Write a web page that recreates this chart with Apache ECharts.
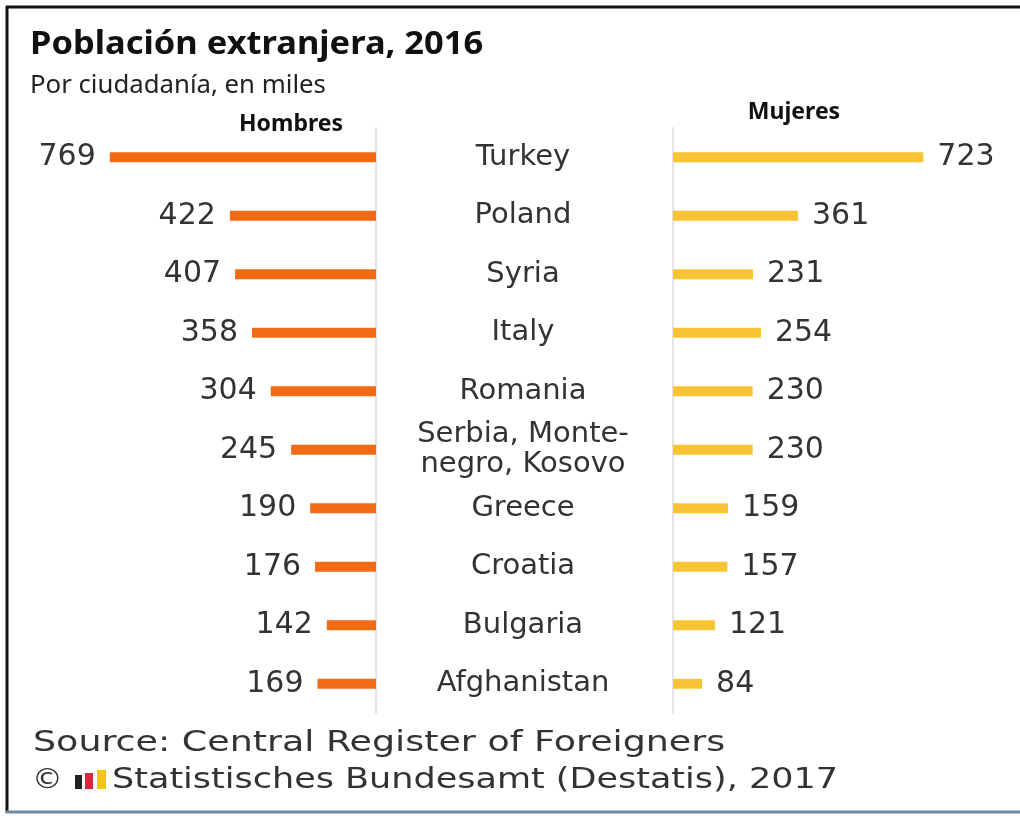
<!DOCTYPE html>
<html>
<head>
<meta charset="utf-8">
<script src="https://cdn.jsdelivr.net/npm/echarts@6/dist/echarts.min.js"></script>
<style>
  html, body { margin: 0; padding: 0; background: #fff; }
  #chart { width: 1020px; height: 818px; }
</style>
</head>
<body>
<div id="chart"></div>
<script>
const countries = ['Turkey', 'Poland', 'Syria', 'Italy', 'Romania', 'Serbia, Monte-\nnegro, Kosovo', 'Greece', 'Croatia', 'Bulgaria', 'Afghanistan'];
const hombres = [769, 422, 407, 358, 304, 245, 190, 176, 142, 169];
const mujeres = [723, 361, 231, 254, 230, 230, 159, 157, 121, 84];

const numFont = 'DejaVu Sans';
const orange = '#F36A14';
const yellow = '#F8C434';
const gray = '#E4E4E4';

const chart = echarts.init(document.getElementById('chart'));

chart.setOption({
  backgroundColor: '#fff',
  animation: false,
  grid: [
    { left: 99, right: 644, top: 128, bottom: 105 },
    { left: 673, right: 70, top: 128, bottom: 105 }
  ],
  xAxis: [
    { gridIndex: 0, type: 'value', min: 0, max: 800, inverse: true, show: false },
    { gridIndex: 1, type: 'value', min: 0, max: 800, show: false }
  ],
  yAxis: [
    {
      gridIndex: 0,
      type: 'category',
      data: countries,
      inverse: true,
      position: 'right',
      axisLine: { show: true, lineStyle: { color: gray, width: 2 } },
      axisTick: { show: false },
      axisLabel: {
        margin: 147,
        align: 'center',
        color: '#333',
        fontFamily: numFont,
        fontSize: 29,
        lineHeight: 30
      }
    },
    {
      gridIndex: 1,
      type: 'category',
      data: countries,
      inverse: true,
      axisLine: { show: true, lineStyle: { color: gray, width: 2 } },
      axisTick: { show: false },
      axisLabel: { show: false }
    }
  ],
  series: [
    {
      name: 'Hombres',
      type: 'bar',
      xAxisIndex: 0,
      yAxisIndex: 0,
      data: hombres,
      barWidth: 10,
      itemStyle: { color: orange },
      label: {
        show: true,
        position: 'left',
        distance: 14,
        color: '#333',
        fontFamily: numFont,
        fontSize: 30
      }
    },
    {
      name: 'Mujeres',
      type: 'bar',
      xAxisIndex: 1,
      yAxisIndex: 1,
      data: mujeres,
      barWidth: 10,
      itemStyle: { color: yellow },
      label: {
        show: true,
        position: 'right',
        distance: 14,
        color: '#333',
        fontFamily: numFont,
        fontSize: 30
      }
    }
  ],
  graphic: [
    // marco de la imagen
    { type: 'line', shape: { x1: 6, y1: 7, x2: 1020, y2: 7 }, style: { stroke: '#111', lineWidth: 3 } },
    { type: 'line', shape: { x1: 7, y1: 6, x2: 7, y2: 813 }, style: { stroke: '#111', lineWidth: 3 } },
    { type: 'line', shape: { x1: 6, y1: 812, x2: 1020, y2: 812 }, style: { stroke: '#7088ac', lineWidth: 3 } },
    {
      type: 'text', x: 30, y: 45, scaleX: 1.045,
      style: { text: 'Población extranjera, 2016', font: 'bold 33px "Noto Sans"', fill: '#111', verticalAlign: 'middle' }
    },
    {
      type: 'text', x: 30, y: 86, scaleX: 1.03,
      style: { text: 'Por ciudadanía, en miles', font: '25px "Noto Sans"', fill: '#222', verticalAlign: 'middle' }
    },
    {
      type: 'text', x: 291, y: 124,
      style: { text: 'Hombres', font: 'bold 23px "Noto Sans"', fill: '#111', align: 'center', verticalAlign: 'middle' }
    },
    {
      type: 'text', x: 794, y: 112,
      style: { text: 'Mujeres', font: 'bold 23px "Noto Sans"', fill: '#111', align: 'center', verticalAlign: 'middle' }
    },
    {
      type: 'text', x: 33, y: 744, scaleX: 1.3,
      style: { text: 'Source: Central Register of Foreigners', font: '28px "DejaVu Sans"', fill: '#333', verticalAlign: 'middle' }
    },
    {
      type: 'text', x: 32, y: 781, scaleX: 1.1,
      style: { text: '©', font: '28px "DejaVu Sans"', fill: '#333', verticalAlign: 'middle' }
    },
    // logo Destatis
    { type: 'rect', shape: { x: 75, y: 775, width: 7, height: 14 }, style: { fill: '#222' } },
    { type: 'rect', shape: { x: 85, y: 773, width: 8, height: 16 }, style: { fill: '#d8283a' } },
    { type: 'rect', shape: { x: 97, y: 770, width: 9, height: 19 }, style: { fill: '#f2c418' } },
    {
      type: 'text', x: 112, y: 781, scaleX: 1.25,
      style: { text: 'Statistisches Bundesamt (Destatis), 2017', font: '28px "DejaVu Sans"', fill: '#333', verticalAlign: 'middle' }
    }
  ]
});
</script>
</body>
</html>
